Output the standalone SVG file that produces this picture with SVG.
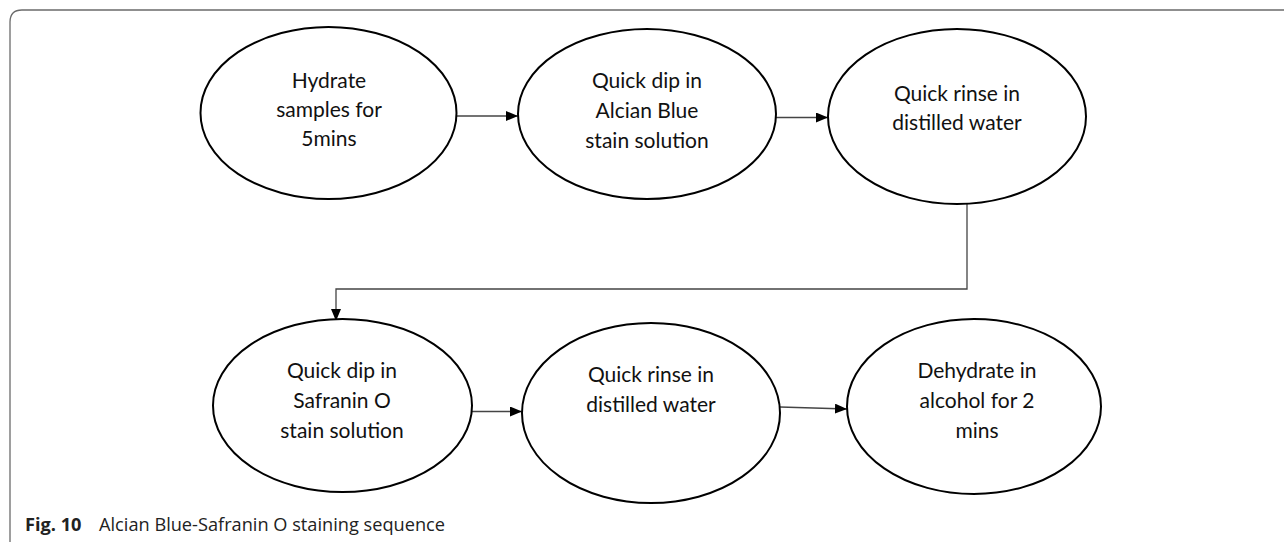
<svg xmlns="http://www.w3.org/2000/svg" width="1284" height="542" viewBox="0 0 1284 542">
<defs>
<marker id="arr" viewBox="0 0 12 10" refX="12" refY="5" markerWidth="12" markerHeight="10" markerUnits="userSpaceOnUse" orient="auto">
<path d="M0,0 L12,5 L0,10 Z" fill="#000"/>
</marker>
</defs>
<style>
.node ellipse{fill:#fff;stroke:#000;stroke-width:2}
.node text{font-family:Lato,"Liberation Sans",sans-serif;font-size:21px;fill:#111;text-anchor:middle}
.conn{fill:none;stroke:#444;stroke-width:1.3}
.frame{fill:none;stroke:#6b6b6b;stroke-width:1.3}
.cap{font-family:"Open Sans","Liberation Sans",sans-serif;font-size:18.2px;fill:#222}
</style>
<rect width="1284" height="542" fill="#fff"/>
<path class="frame" d="M10,542 L10,22 Q10,10 22,10 L1284,10"/>
<g id="connectors">
<line class="conn" x1="457" y1="116" x2="518" y2="116" marker-end="url(#arr)"/>
<line class="conn" x1="776" y1="117.5" x2="828" y2="117.5" marker-end="url(#arr)"/>
<polyline class="conn" points="967,204 967,289 336,289 336,321" marker-end="url(#arr)"/>
<line class="conn" x1="472" y1="411.5" x2="522" y2="411.5" marker-end="url(#arr)"/>
<line class="conn" x1="780" y1="407" x2="847" y2="409" marker-end="url(#arr)"/>
</g>
<g id="n1" class="node">
<ellipse cx="328.5" cy="113" rx="128" ry="86"/>
<text x="329" y="88">Hydrate</text>
<text x="329" y="117">samples for</text>
<text x="329" y="146">5mins</text>
</g>
<g id="n2" class="node">
<ellipse cx="647" cy="114" rx="129" ry="85"/>
<text x="647" y="88">Quick dip in</text>
<text x="647" y="118">Alcian Blue</text>
<text x="647" y="148">stain solution</text>
</g>
<g id="n3" class="node">
<ellipse cx="957" cy="116.5" rx="129" ry="87.5"/>
<text x="957" y="101">Quick rinse in</text>
<text x="957" y="130">distilled water</text>
</g>
<g id="n4" class="node">
<ellipse cx="342.5" cy="405.5" rx="129.5" ry="86.5"/>
<text x="342" y="378">Quick dip in</text>
<text x="342" y="408">Safranin O</text>
<text x="342" y="438">stain solution</text>
</g>
<g id="n5" class="node">
<ellipse cx="651" cy="413" rx="129" ry="90"/>
<text x="651" y="382">Quick rinse in</text>
<text x="651" y="412">distilled water</text>
</g>
<g id="n6" class="node">
<ellipse cx="974" cy="406.5" rx="127" ry="87.5"/>
<text x="977" y="378">Dehydrate in</text>
<text x="977" y="408">alcohol for 2</text>
<text x="977" y="438">mins</text>
</g>
<text class="cap" x="25" y="531"><tspan font-weight="bold">Fig. 10</tspan><tspan x="99">Alcian Blue-Safranin O staining sequence</tspan></text>
</svg>
